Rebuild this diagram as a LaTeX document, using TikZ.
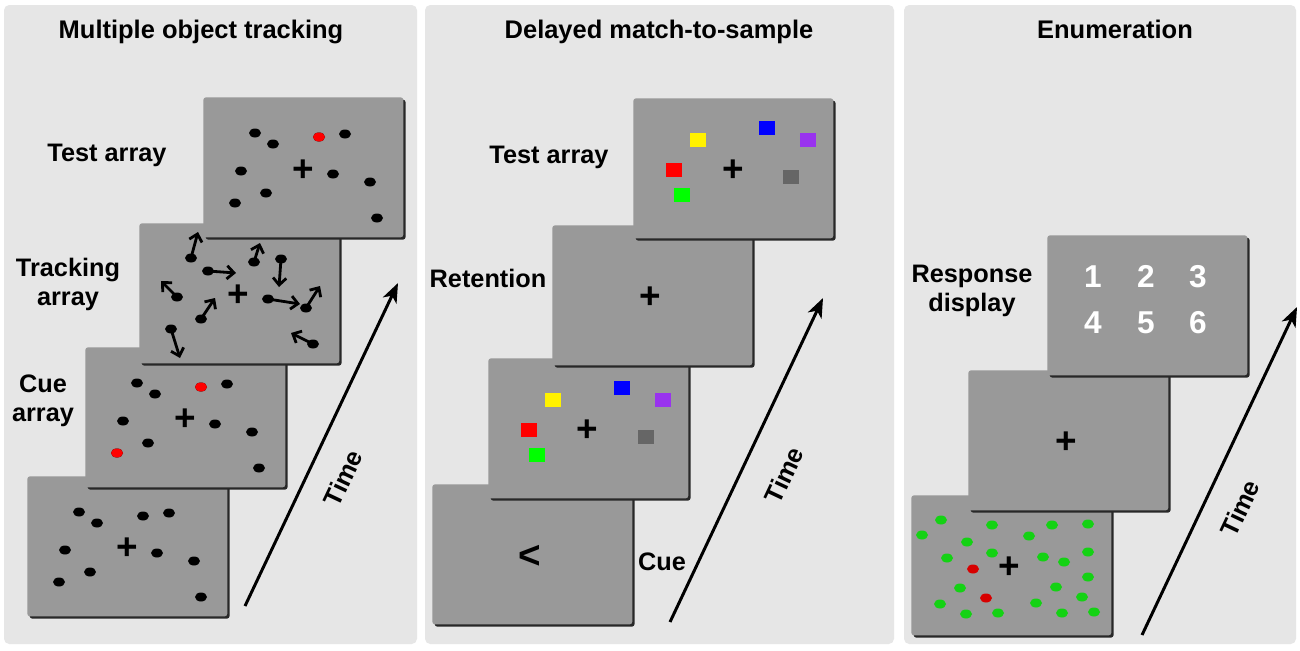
\documentclass[tikz,border=0pt]{standalone}
\usepackage{fontspec}
\setmainfont{Liberation Sans}
\usetikzlibrary{arrows.meta,shadows}

\definecolor{panelgray}{RGB}{230,230,230}
\definecolor{screengray}{RGB}{153,153,153}
\definecolor{shadowgray}{RGB}{40,40,40}
\definecolor{sqpurple}{RGB}{153,51,238}
\definecolor{sqgray}{RGB}{102,102,102}
\definecolor{dotgreen}{RGB}{20,210,20}
\definecolor{dotred}{RGB}{215,0,0}

\tikzset{
  panel/.style={fill=panelgray, rounded corners=3pt},
  screen/.style={rectangle, fill=screengray, rounded corners=1.5pt, inner sep=0pt,
    minimum width=4cm, minimum height=2.8cm, anchor=north west,
    general shadow={fill=shadowgray, shadow xshift=1.3pt, shadow yshift=-1.3pt}},
  paneltitle/.style={font=\fontsize{14.5}{17}\selectfont\bfseries, inner sep=0pt, anchor=base},
  tasklabel/.style={font=\fontsize{14.4}{16.5}\selectfont\bfseries, align=center, inner sep=0pt},
  fixcross/.style={font=\fontsize{21}{21}\selectfont\bfseries, inner sep=0pt},
  numlabel/.style={font=\fontsize{18}{20}\selectfont\bfseries, text=white, inner sep=0pt, anchor=base},
  timearrow/.style={line width=1.7pt, -{Stealth[length=11pt,width=8.5pt,inset=3pt]}},
  movearrow/.style={line width=1.6pt, -{Straight Barb[length=4pt,width=7.5pt]}},
}

% dot layout shared by the tracking screens
\def\motdots{52/36, 70/47, 116/40, 142/37, 38/74, 130/77, 167/85, 63/96, 32/106, 174/121}
\def\motmoves{52/35/59/9, 69/48/97/50, 38/74/22/58, 62/96/76/75, 115/39/121/20,
  142/36/140/64, 129/76/161/81, 167/85/181/63, 32/106/41/135, 174/121/152/110}
\def\dmssquares{yellow/65/42, blue/134/30, sqpurple/175/42, red/41/72, sqgray/158/79, green/49/97}
\def\enumdots{30/25, 81/30, 141/30, 177/29, 11/40, 118/41, 56/47, 81/58, 177/57, 36/63,
  132/62, 153/67, 177/82, 49/93, 145/92, 171/102, 29/109, 125/108, 55/119, 87/118, 151/118, 183/117}

\begin{document}
\begin{tikzpicture}[x=0.02cm, y=-0.02cm]
\useasboundingbox (0,0) rectangle (1300,650);
\fill[white] (0,0) rectangle (1300,650);

% panels
\fill[panel] (4,5) rectangle (417,644);
\fill[panel] (425,5) rectangle (894,644);
\fill[panel] (904,5) rectangle (1296,644);

\node[paneltitle] (motitle) at (201,38) {Multiple object tracking};
\node[paneltitle] (dmstitle) at (659,38) {Delayed match-to-sample};
\node[paneltitle] (enumtitle) at (1115,38) {Enumeration};

%%% multiple object tracking
\node[screen] (motstart) at (27,476) {};
\begin{scope}[shift={(motstart.north west)}]
  \foreach \x/\y in \motdots {\fill (\x,\y) ellipse [x radius=6, y radius=4.5];}
  \node[fixcross] (motstartfix) at (100,73) {+};
\end{scope}

\node[screen] (motcue) at (85,347) {};
\begin{scope}[shift={(motcue.north west)}]
  \foreach \x/\y in \motdots {\fill (\x,\y) ellipse [x radius=6, y radius=4.5];}
  \fill[red] (116,40) ellipse [x radius=6, y radius=4.5];
  \fill[red] (32,106) ellipse [x radius=6, y radius=4.5];
  \node[fixcross] (motcuefix) at (100,73) {+};
\end{scope}

\node[screen] (mottrack) at (139,223) {};
\begin{scope}[shift={(mottrack.north west)}]
  \foreach \x/\y/\tx/\ty in \motmoves {
    \draw[movearrow] (\x,\y) -- (\tx,\ty);
    \fill (\x,\y) ellipse [x radius=6, y radius=4.5];
  }
  \node[fixcross] (mottrackfix) at (99,73) {+};
\end{scope}

\node[screen] (mottest) at (203,97) {};
\begin{scope}[shift={(mottest.north west)}]
  \foreach \x/\y in \motdots {\fill (\x,\y) ellipse [x radius=6, y radius=4.5];}
  \fill[red] (116,40) ellipse [x radius=6, y radius=4.5];
  \node[fixcross] (mottestfix) at (100,74) {+};
\end{scope}

\node[tasklabel, anchor=base] (motestlbl) at (107,161) {Test array};
\node[tasklabel] (motracklbl) at (68,284) {Tracking\\array};
\node[tasklabel] (mocuelbl) at (43,401) {Cue\\array};

\coordinate (time1a) at (245,606);
\coordinate (time1b) at (398,283);
\draw[timearrow] (time1a) -- (time1b);
\node[tasklabel, rotate=64.7] (time1) at (343,478) {Time};

%%% delayed match-to-sample
\node[screen] (dmscue) at (432,484) {};
\node[fixcross, font=\fontsize{22}{22}\selectfont\bfseries] (dmsarrow) at ([shift={(98,73)}]dmscue.north west) {<};

\node[screen] (dmssample) at (488,358) {};
\begin{scope}[shift={(dmssample.north west)}]
  \foreach \col/\x/\y in \dmssquares {\fill[\col] (\x,\y) +(-8,-7) rectangle +(8,7);}
  \node[fixcross] (dmssamplefix) at (99,73) {+};
\end{scope}

\node[screen] (dmsdelay) at (552,225) {};
\node[fixcross] (dmsdelayfix) at ([shift={(98,73)}]dmsdelay.north west) {+};

\node[screen] (dmstest) at (633,98) {};
\begin{scope}[shift={(dmstest.north west)}]
  \foreach \col/\x/\y in \dmssquares {\fill[\col] (\x,\y) +(-8,-7) rectangle +(8,7);}
  \node[fixcross] (dmstestfix) at (100,73) {+};
\end{scope}

\node[tasklabel, anchor=base] (dmstestlbl) at (549,163) {Test array};
\node[tasklabel, anchor=base] (dmsdelaylbl) at (488,287) {Retention};
\node[tasklabel, anchor=base] (dmscuelbl) at (662,570) {Cue};

\coordinate (time2a) at (670,622);
\coordinate (time2b) at (823,298);
\draw[timearrow] (time2a) -- (time2b);
\node[tasklabel, rotate=64.7] (time2) at (784,475) {Time};

%%% enumeration
\node[screen] (enumdisplay) at (911,495) {};
\begin{scope}[shift={(enumdisplay.north west)}]
  \foreach \x/\y in \enumdots {\fill[dotgreen] (\x,\y) ellipse [x radius=6, y radius=4.5];}
  \fill[dotred] (62,74) ellipse [x radius=6, y radius=4.5];
  \fill[dotred] (75,103) ellipse [x radius=6, y radius=4.5];
  \node[fixcross] (enumdisplayfix) at (98,73) {+};
\end{scope}

\node[screen] (enumdelay) at (968,370) {};
\node[fixcross] (enumdelayfix) at ([shift={(98,73)}]enumdelay.north west) {+};

\node[screen] (enumresp) at (1047,235) {};
\node[numlabel] (resp1) at (1093,287) {1};
\node[numlabel] (resp2) at (1146,287) {2};
\node[numlabel] (resp3) at (1198,287) {3};
\node[numlabel] (resp4) at (1093,333) {4};
\node[numlabel] (resp5) at (1146,333) {5};
\node[numlabel] (resp6) at (1198,333) {6};

\node[tasklabel] (enumresplbl) at (972,291) {Response\\display};

\coordinate (time3a) at (1142,635);
\coordinate (time3b) at (1297,307);
\draw[timearrow] (time3a) -- (time3b);
\node[tasklabel, rotate=64.7] (time3) at (1240,508) {Time};
\end{tikzpicture}
\end{document}
